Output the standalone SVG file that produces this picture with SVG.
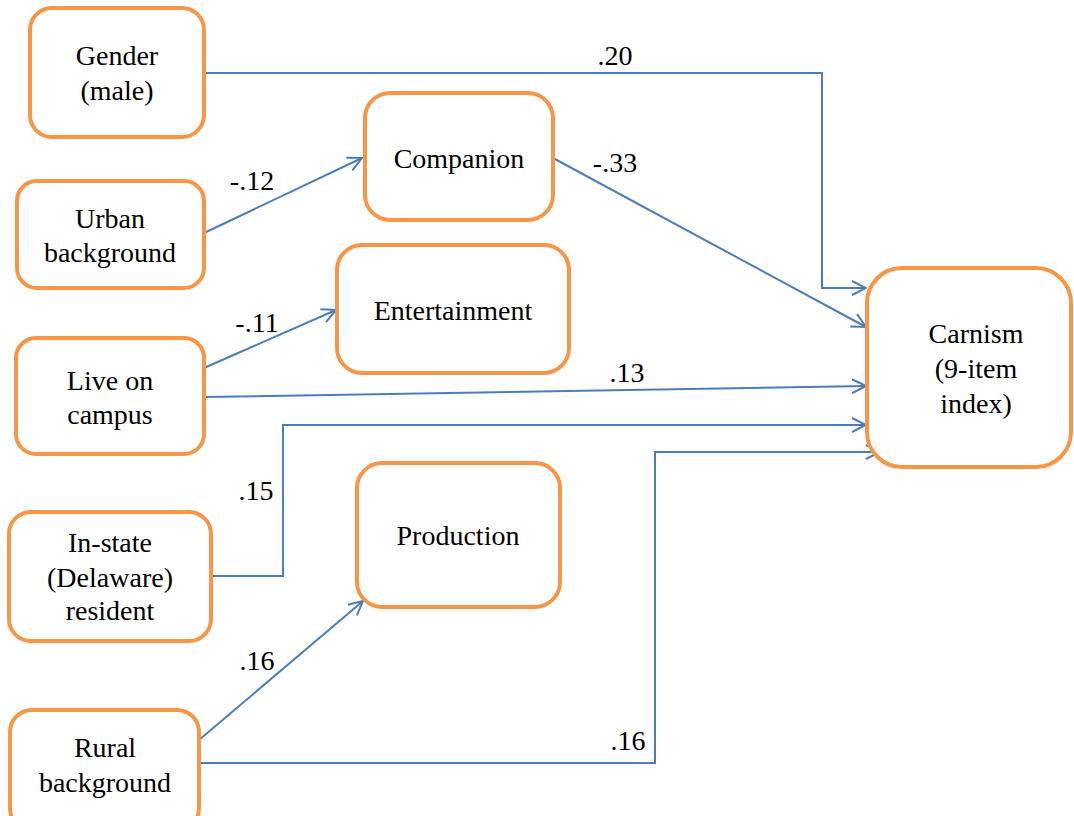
<svg xmlns="http://www.w3.org/2000/svg" width="1074" height="816" viewBox="0 0 1074 816" font-family="Liberation Serif" font-size="28">
<style>
.box{fill:#fff;stroke:#F79646;stroke-width:4}
.c{fill:none;stroke:#4A7EBB;stroke-width:2;marker-end:url(#arr)}
text{font-family:'Liberation Serif','Times New Roman',serif;font-size:28px;fill:#000;text-anchor:middle}
</style>
<defs>
<marker id="arr" viewBox="0 0 16 16" refX="15" refY="8" markerWidth="16" markerHeight="16" markerUnits="userSpaceOnUse" orient="auto">
<path d="M1,1 L15,8 L1,15" fill="none" stroke="#4A7EBB" stroke-width="2"/>
</marker>
</defs>
<rect width="1074" height="816" fill="#fff"/>
<g id="connectors">
<polyline class="c" points="204,73 822,73 822,288 866,288"/>
<line class="c" x1="204" y1="233" x2="362" y2="158"/>
<line class="c" x1="553" y1="158" x2="866" y2="327"/>
<line class="c" x1="204" y1="368" x2="336" y2="310"/>
<line class="c" x1="204" y1="397" x2="866" y2="386"/>
<polyline class="c" points="211,576 283,576 283,425 866,425"/>
<line class="c" x1="199" y1="740" x2="363" y2="601"/>
<polyline class="c" points="199,763 655,763 655,452 880,452"/>
<text x="615" y="65">.20</text>
<text x="252" y="190">-.12</text>
<text x="615" y="172">-.33</text>
<text x="257" y="332">-.11</text>
<text x="627" y="382">.13</text>
<text x="256" y="500">.15</text>
<text x="257" y="670">.16</text>
<text x="628" y="750">.16</text>
</g>
<g id="gender"><rect class="box" x="30" y="8" width="174" height="129" rx="22"/><text x="117" y="65">Gender</text><text x="117" y="100">(male)</text></g>
<g id="urban"><rect class="box" x="17" y="181" width="187" height="107" rx="20"/><text x="110" y="228">Urban</text><text x="110" y="262">background</text></g>
<g id="live"><rect class="box" x="16" y="338" width="188" height="116" rx="20"/><text x="110" y="390">Live on</text><text x="110" y="424">campus</text></g>
<g id="instate"><rect class="box" x="9" y="512" width="202" height="129" rx="22"/><text x="110" y="552">In-state</text><text x="110" y="587">(Delaware)</text><text x="110" y="620">resident</text></g>
<g id="rural"><rect class="box" x="10" y="710" width="189" height="120" rx="22"/><text x="105" y="757">Rural</text><text x="105" y="792">background</text></g>
<g id="companion"><rect class="box" x="365" y="93" width="188" height="127" rx="25"/><text x="459" y="168">Companion</text></g>
<g id="entertainment"><rect class="box" x="337" y="245" width="232" height="128" rx="25"/><text x="453" y="320">Entertainment</text></g>
<g id="production"><rect class="box" x="357" y="463" width="203" height="144" rx="25"/><text x="458" y="545">Production</text></g>
<g id="carnism"><rect class="box" x="867" y="268" width="204" height="199" rx="35"/><text x="976" y="343">Carnism</text><text x="976" y="378">(9-item</text><text x="976" y="413">index)</text></g>
</svg>
